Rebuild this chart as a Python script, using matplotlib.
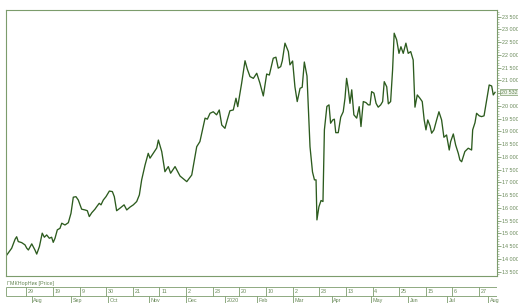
import numpy as np
import pandas as pd
import matplotlib
matplotlib.use("Agg")
import matplotlib.pyplot as plt
import matplotlib.transforms as mtransforms
from matplotlib.ticker import FixedLocator, MultipleLocator, FuncFormatter, NullFormatter

# ---------------- data ----------------
ticker_name = "ГМКНорНик [Price]"
start_date = "2019-07-12"
end_date = "2020-08-07"
holidays = ["2020-01-01", "2020-01-02", "2020-01-03", "2020-01-06", "2020-01-07"]
week_start = "2019-07-29"
week_step = 15  # trading days between the small date ticks

# trading-day number (0 = first bar) and close price
day = [0, 2.8, 4.7, 5.6, 6.5, 8.4, 10.3, 11.3, 12.2, 14.1, 15.9, 16.9, 18.4, 20.0,
       21.2, 22.5, 24.0, 25.3, 26.2, 27.2, 28.5, 30.0, 31.0, 32.8, 34.7, 36.2, 37.5,
       39.0, 40.3, 42.2, 44.1, 45.4, 46.5, 47.9, 49.7, 50.7, 52.1, 53.1, 54.4, 55.9,
       57.8, 59.5, 60.6, 61.9, 63.8, 66.1, 67.6, 69.4, 71.3, 73.2, 74.7, 76.0, 77.9,
       79.7, 80.7, 82.5, 84.5, 85.4, 87.3, 89.1, 91.0, 92.3, 94.8, 97.6, 101.4, 104.2,
       107.0, 108.8, 111.7, 113.0, 114.5, 116.3, 118.2, 119.7, 121.1, 122.9, 124.2,
       125.7, 127.6, 129.1, 130.1, 132.3, 134.2, 135.5, 137.0, 138.9, 140.8, 142.6,
       144.5, 146.4, 147.9, 150.1, 151.6, 152.9, 154.3, 155.2, 156.7, 158.6, 159.5,
       161.0, 162.3, 163.6, 165.2, 166.4, 167.6, 169.1, 170.8, 172.2, 173.3, 174.2,
       174.7, 175.8, 177.0, 178.1, 178.9, 180.3, 181.5, 182.4, 183.6, 184.5, 185.3,
       186.7, 188.1, 189.5, 190.5, 191.4, 192.3, 193.3, 194.3, 195.5, 197.1, 198.5,
       199.5, 200.8, 202.3, 203.6, 204.6, 205.5, 206.8, 208.0, 209.2, 210.6, 211.7,
       212.6, 214.0, 214.9, 216.2, 217.3, 218.2, 219.6, 220.9, 222.0, 223.3, 224.8,
       226.1, 227.5, 228.9, 229.9, 231.2, 232.7, 234.0, 235.1, 236.1, 237.1, 238.4,
       239.3, 240.6, 242.1, 243.4, 244.9, 246.2, 247.7, 249.2, 250.0, 251.5, 252.8,
       254.3, 255.2, 256.2, 258.0, 259.9, 261.8, 262.4, 263.7, 264.6, 266.1, 267.4,
       268.8, 270.3, 271.7, 273.1, 274.0, 275.0]
price = [14150, 14420, 14770, 14870, 14680, 14640, 14550, 14420, 14350, 14590, 14350,
         14190, 14480, 15010, 14850, 14940, 14810, 14850, 14650, 14810, 15140, 15200,
         15400, 15330, 15420, 15790, 16420, 16440, 16310, 15950, 15920, 15890, 15660,
         15810, 15950, 16050, 16180, 16120, 16310, 16440, 16660, 16640, 16440, 15890,
         15990, 16120, 15920, 16030, 16120, 16250, 16510, 17100, 17680, 18140, 17950,
         18140, 18350, 18660, 18210, 17420, 17620, 17360, 17620, 17250, 17030, 17290,
         18400, 18600, 19520, 19480, 19710, 19770, 19650, 19840, 19250, 19120, 19450,
         19810, 19840, 20300, 19970, 20890, 21770, 21440, 21150, 21080, 21280, 20890,
         20390, 21250, 21210, 21870, 21910, 21480, 21540, 21770, 22460, 22130, 21610,
         21760, 20750, 20170, 20690, 20730, 21720, 21170, 18400, 17410, 17100, 17100,
         15530, 16040, 16290, 16250, 19060, 19980, 20040, 19320, 19450, 19480, 18950,
         18950, 19560, 19770, 20300, 21080, 20690, 20100, 20630, 19650, 19520, 19970,
         19190, 20170, 20130, 20040, 20040, 20560, 20500, 20100, 19950, 20040, 20170,
         20950, 20750, 20080, 20170, 21410, 22850, 22590, 22060, 22320, 22060, 22460,
         22060, 22130, 21800, 19950, 20430, 20300, 20170, 19450, 19060, 19450, 19210,
         18930, 19060, 19450, 19770, 19450, 18770, 18860, 18270, 18600, 18900, 18470,
         18140, 17880, 17810, 18210, 18340, 18270, 19060, 19340, 19710, 19610, 19580,
         19610, 20230, 20820, 20780, 20430, 20532]
last_price = 20532
price_ticks = list(range(13500, 24000, 500))
month_labels = ["Jan", "Feb", "Mar", "Apr", "May", "Jun",
                "Jul", "Aug", "Sep", "Oct", "Nov", "Dec"]

# ---------------- styling ----------------
FRAME = "#7c9c6c"
LINE = "#2c5b1e"
TXT = "#6a8a5a"
FONT = ["Liberation Sans", "DejaVu Sans"]
FS = 3.9

cal = pd.bdate_range(start_date, end_date)
cal = cal[~cal.isin(pd.to_datetime(holidays))]

W, H = 518, 303
fig = plt.figure(figsize=(W / 100, H / 100), dpi=100)
ax = fig.add_axes([6 / W, 1 - 276 / H, (497 - 6) / W, (276 - 10) / H])

ax.plot(day, price, color=LINE, lw=0.95, solid_joinstyle="round")
ax.set_xlim(-0.4, 276.1)
ax.set_ylim(13330, 23760)

for s in ax.spines.values():
    s.set_color(FRAME)
    s.set_linewidth(0.8)

ax.xaxis.set_visible(False)
ax.yaxis.tick_right()
ax.yaxis.set_major_locator(FixedLocator(price_ticks))
ax.yaxis.set_minor_locator(MultipleLocator(100))
ax.yaxis.set_major_formatter(FuncFormatter(lambda v, p: f"{v:,.0f}".replace(",", " ")))
ax.yaxis.set_minor_formatter(NullFormatter())
ax.tick_params(axis="y", which="major", length=3, width=0.6, color=FRAME,
               labelsize=FS, labelcolor=TXT, pad=0.5)
ax.tick_params(axis="y", which="minor", length=1.3, width=0.4, color=FRAME)
for lab in ax.get_yticklabels():
    lab.set_family(FONT)

# last price marker on the price scale
trans = mtransforms.blended_transform_factory(ax.transAxes, ax.transData)
ax.text(1.008, last_price, f"{last_price:,.0f}".replace(",", " "), transform=trans,
        fontsize=FS, family=FONT, color=TXT, va="center", ha="left", clip_on=False,
        zorder=5,
        bbox=dict(boxstyle="square,pad=0.1", fc="#eef4ea", ec=FRAME, lw=0.5))

# ticker name
fig.text(7 / W, 1 - 284 / H, ticker_name, fontsize=FS, family=FONT, color=TXT,
         va="center", ha="left")

# date strip
axd = fig.add_axes([6 / W, 0, (497 - 6) / W, 16 / H])
axd.set_xlim(ax.get_xlim())
axd.set_ylim(0, 16)
axd.axis("off")
x0, x1 = ax.get_xlim()
axd.hlines([16, 7], x0, x1, color=FRAME, lw=0.6)
axd.vlines([x0], 7, 16, color=FRAME, lw=0.6)

w0 = cal.get_loc(pd.Timestamp(week_start))
week_idx = list(range(w0, len(cal), week_step))
axd.vlines(week_idx, 7, 16, color=FRAME, lw=0.6)
for i in week_idx:
    axd.text(i + 1.0, 11.8, str(cal[i].day), fontsize=FS, family=FONT, color=TXT,
             va="center", ha="left")

s = pd.Series(np.arange(len(cal)), index=cal)
firsts = s.groupby(cal.to_period("M")).first()
for per, i in firsts.items():
    if i == 0:
        continue
    axd.vlines([i], 0, 7, color=FRAME, lw=0.6)
    lab = str(per.year) if per.month == 1 else month_labels[per.month - 1]
    axd.text(i + 1.0, 2.6, lab, fontsize=FS, family=FONT, color=TXT,
             va="center", ha="left")

fig.savefig("out.png", dpi=100)
